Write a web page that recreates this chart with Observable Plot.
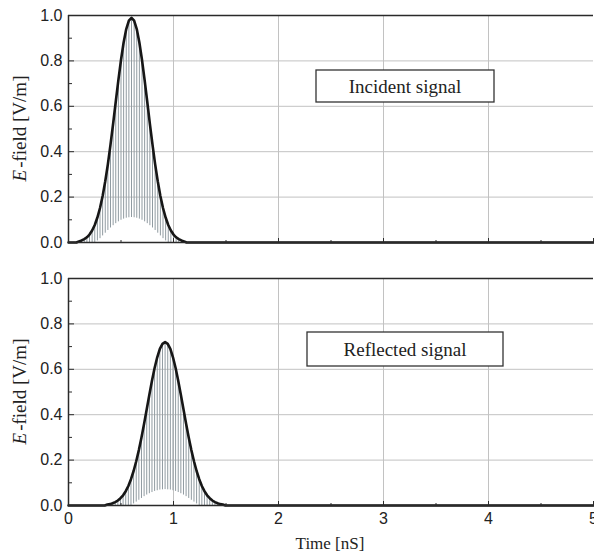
<!DOCTYPE html>
<html><head><meta charset="utf-8">
<script src="https://cdn.jsdelivr.net/npm/d3@7"></script>
<script src="https://cdn.jsdelivr.net/npm/@observablehq/plot@0.6"></script>
<style>
body{margin:0;background:#fff;}
#wrap{position:relative;width:594px;height:556px;overflow:hidden;background:#fff;}
#wrap svg{position:absolute;left:0;}
</style></head><body><div id="wrap"></div>
<script>
// ---- data ----
const xMajor = [0, 1, 2, 3, 4, 5];
const xMinor = [0.5, 1.5, 2.5, 3.5, 4.5];
const xGrid = [1, 2, 3, 4];
const yMajor = [0, 0.2, 0.4, 0.6, 0.8, 1.0];
const yMinor = [0.1, 0.3, 0.5, 0.7, 0.9];
const yGrid = [0.2, 0.4, 0.6, 0.8];

// Incident signal: time (ns), envelope E (V/m), lower edge of the carrier fill
const incTime = [0, 0.075, 0.100,0.125,0.150,0.175,0.200,0.225,0.250,0.275,0.300,0.325,0.350,0.375,0.400,0.425,0.450,0.475,0.500,0.525,0.550,0.575,0.600,0.625,0.650,0.675,0.700,0.725,0.750,0.775,0.800,0.825,0.850,0.875,0.900,0.925,0.950,0.975,1.000,1.025,1.050,1.075,1.100, 1.125, 5];
const incEnv = [0, 0, .005,.009,.015,.023,.035,.053,.077,.110,.152,.205,.270,.345,.431,.523,.620,.715,.804,.881,.940,.977,.990,.977,.940,.881,.804,.715,.620,.523,.431,.345,.270,.205,.152,.110,.077,.053,.035,.023,.015,.009,.005, 0, 0];
const incLow = [0, 0, 0,0,0,0,0,0,0,.007,.017,.029,.041,.053,.064,.074,.083,.091,.098,.103,.107,.109,.110,.109,.107,.103,.098,.091,.083,.074,.064,.053,.041,.029,.017,.007,0,0,0,0,0,0,0, 0, 0];

// Reflected signal
const refTime = [0, 0.345, 0.370,0.395,0.420,0.445,0.470,0.495,0.520,0.545,0.570,0.595,0.620,0.645,0.670,0.695,0.720,0.745,0.770,0.795,0.820,0.845,0.870,0.895,0.920,0.945,0.970,0.995,1.020,1.045,1.070,1.095,1.120,1.145,1.170,1.195,1.220,1.245,1.270,1.295,1.320,1.345,1.370,1.395,1.420,1.445,1.470, 1.495, 5];
const refEnv = [0, 0, .004,.006,.010,.015,.022,.032,.045,.063,.086,.116,.152,.195,.244,.300,.360,.424,.488,.550,.606,.653,.690,.712,.720,.712,.690,.653,.606,.550,.488,.424,.360,.300,.244,.195,.152,.116,.086,.063,.045,.032,.022,.015,.010,.006,.004, 0, 0];
const refLow = [0, 0, 0,0,0,0,0,0,0,0,0,0,.007,.015,.023,.031,.039,.046,.052,.057,.062,.065,.068,.069,.070,.069,.068,.065,.062,.057,.052,.046,.039,.031,.023,.015,.007,0,0,0,0,0,0,0,0,0,0, 0, 0];

const legendTexts = ["Incident signal", "Reflected signal"];
const xLabel = "Time [nS]";
const yLabelItalic = "E";
const yLabelRest = "-field [V/m]";

const wrap = document.getElementById("wrap");
const sans = "'Liberation Sans', Arial, sans-serif";
const serif = "'Liberation Serif', 'Times New Roman', serif";
const axisCol = "#2a2a2a";

function panel({time, env, low, top, height, marginTop, marginBottom, showX, legend, box}) {
  const rows = time.map((t, i) => ({t, hi: env[i], lo: low[i]}));
  const spikes = rows.filter(d => d.hi > d.lo + 0.002);
  const plot = Plot.plot({
    width: 594, height, marginLeft: 68, marginRight: 1, marginTop, marginBottom,
    x: {domain: [0, 5]},
    y: {domain: [0, 1]},
    style: {fontFamily: sans, fontSize: "16px", color: "#222", background: "transparent", overflow: "visible"},
    marks: [
      Plot.gridX(xGrid, {stroke: "#c2c2c2", strokeOpacity: 1, strokeWidth: 1}),
      Plot.gridY(yGrid, {stroke: "#c2c2c2", strokeOpacity: 1, strokeWidth: 1}),
      Plot.ruleX(spikes, {x: "t", y1: "lo", y2: "hi", stroke: "#909ba1", strokeWidth: 1}),
      Plot.line(rows, {x: "t", y: "hi", stroke: "#161616", strokeWidth: 2.6, curve: "linear"}),
      Plot.ruleY([1], {stroke: axisCol, strokeWidth: 1.5}),
      Plot.ruleY([0], {stroke: axisCol, strokeWidth: 1.5}),
      Plot.ruleX([0], {stroke: axisCol, strokeWidth: 1.5}),
      Plot.axisY(yMajor, {anchor: "right", frameAnchor: "left", tickSize: 5, fill: "none", stroke: axisCol, label: null}),
      Plot.axisY(yMinor, {anchor: "right", frameAnchor: "left", tickSize: 3, fill: "none", stroke: axisCol, label: null}),
      Plot.axisY(yMajor, {anchor: "left", tickSize: 0, tickPadding: 6, tickFormat: d3.format(".1f"), label: null, fontSize: 16, fill: "#222"}),
      Plot.axisX(xMajor, {anchor: "top", frameAnchor: "bottom", tickSize: 5, fill: "none", stroke: axisCol, label: null}),
      Plot.axisX(xMinor, {anchor: "top", frameAnchor: "bottom", tickSize: 3, fill: "none", stroke: axisCol, label: null}),
      showX ? Plot.axisX(xMajor, {anchor: "bottom", tickSize: 0, tickPadding: 7, label: null, fontSize: 16, fill: "#222"}) : null
    ]
  });
  plot.style.top = top + "px";
  const svg = d3.select(plot);
  const mid = marginTop + (height - marginTop - marginBottom) / 2;
  const yl = svg.append("text")
    .attr("transform", `translate(19,${mid}) rotate(-90)`)
    .attr("text-anchor", "middle").attr("dominant-baseline", "central")
    .style("font-family", serif).style("font-size", "19px").attr("fill", "#222");
  yl.append("tspan").style("font-style", "italic").text(yLabelItalic);
  yl.append("tspan").attr("dx", 2).text(yLabelRest);
  // legend box
  svg.append("rect").attr("x", box[0]).attr("y", box[1]).attr("width", box[2]).attr("height", box[3])
    .attr("fill", "white").attr("stroke", "#333").attr("stroke-width", 1.3);
  svg.append("text").attr("x", box[0] + box[2] / 2).attr("y", box[1] + box[3] / 2)
    .attr("text-anchor", "middle").attr("dominant-baseline", "central")
    .style("font-family", serif).style("font-size", "19px").attr("fill", "#222").text(legend);
  if (showX) {
    svg.append("text").attr("x", 330).attr("y", height - 13)
      .attr("text-anchor", "middle").attr("dominant-baseline", "central")
      .style("font-family", serif).style("font-size", "17px").attr("fill", "#222").text(xLabel);
  }
  wrap.appendChild(plot);
}

panel({time: incTime, env: incEnv, low: incLow, top: 0, height: 250, marginTop: 15, marginBottom: 8,
  showX: false, legend: legendTexts[0], box: [316, 70, 178, 32]});
panel({time: refTime, env: refEnv, low: refLow, top: 250, height: 306, marginTop: 28, marginBottom: 51,
  showX: true, legend: legendTexts[1], box: [307, 82, 196, 34]});
</script>
</body></html>
